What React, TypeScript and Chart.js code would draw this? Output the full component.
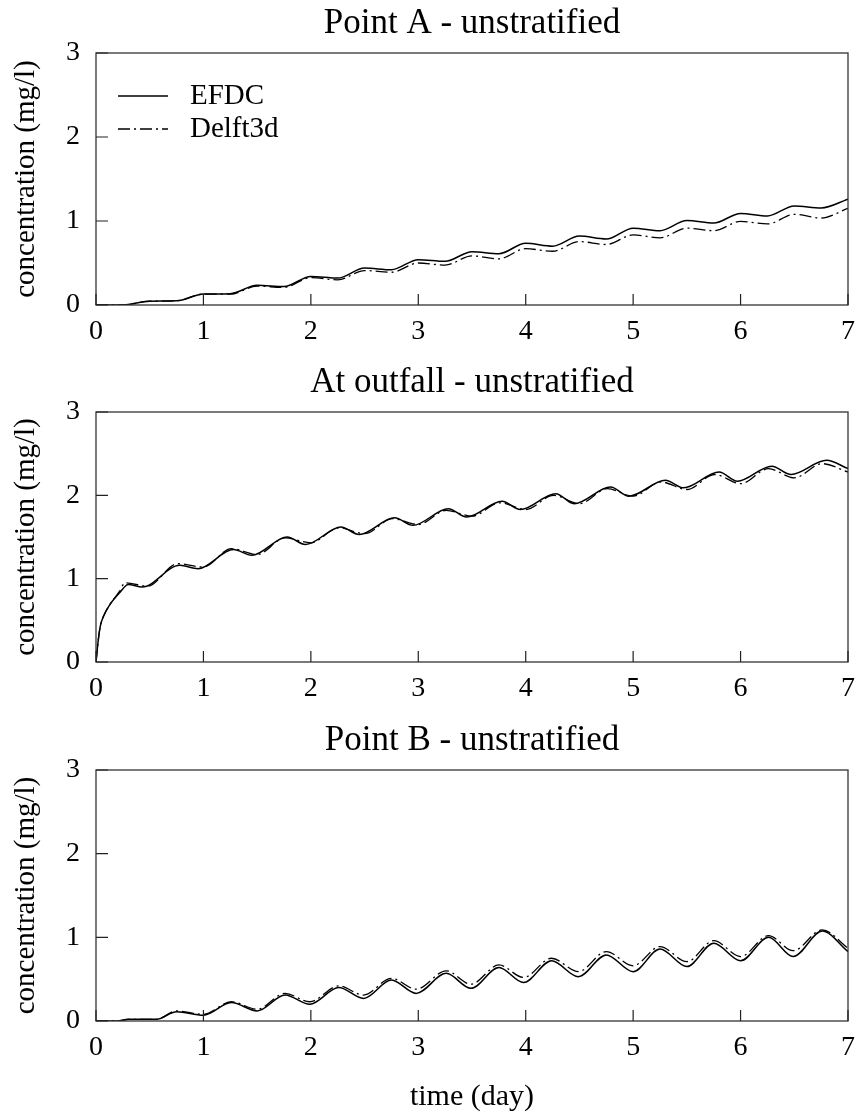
import React, { useEffect, useRef } from "react";
import { Chart, registerables } from "chart.js";

Chart.register(...registerables);

const FONT = "'Liberation Serif', 'Times New Roman', Times, serif";

// ---------- data ----------
const xTickValues = [0, 1, 2, 3, 4, 5, 6, 7];
const yTickValues = [0, 1, 2, 3];

const panelTitles = ["Point A - unstratified", "At outfall - unstratified", "Point B - unstratified"];
const seriesLabels = ["EFDC", "Delft3d"];
const yAxisLabel = "concentration (mg/l)";
const xAxisLabel = "time (day)";

// Point A
const tA = [0, 0.25, 0.5, 0.75, 1, 1.25, 1.5, 1.75, 2, 2.25, 2.5, 2.75, 3, 3.25, 3.5, 3.75, 4, 4.25, 4.5, 4.75, 5, 5.25, 5.5, 5.75, 6, 6.25, 6.5, 6.75, 7];
const efdcA = [0, 0, 0.045, 0.05, 0.13, 0.135, 0.235, 0.22, 0.34, 0.32, 0.44, 0.42, 0.54, 0.52, 0.635, 0.61, 0.735, 0.7, 0.82, 0.785, 0.915, 0.885, 1.005, 0.975, 1.09, 1.06, 1.18, 1.155, 1.26];
const delftA = [0, 0, 0.045, 0.05, 0.13, 0.13, 0.225, 0.21, 0.325, 0.3, 0.41, 0.39, 0.5, 0.475, 0.585, 0.55, 0.67, 0.64, 0.755, 0.72, 0.835, 0.8, 0.915, 0.885, 0.995, 0.965, 1.08, 1.035, 1.15];

// At outfall
const tOutE = [0, 0.02, 0.04, 0.07, 0.13, 0.22, 0.3, 0.43, 0.78, 0.95, 1.28, 1.45, 1.78, 1.95, 2.28, 2.45, 2.78, 2.95, 3.28, 3.45, 3.78, 3.95, 4.28, 4.45, 4.79, 4.96, 5.3, 5.47, 5.8, 5.97, 6.29, 6.47, 6.8, 7];
const efdcOut = [0, 0.25, 0.43, 0.55, 0.69, 0.83, 0.93, 0.9, 1.16, 1.12, 1.35, 1.28, 1.5, 1.41, 1.62, 1.53, 1.73, 1.64, 1.84, 1.74, 1.93, 1.83, 2.02, 1.9, 2.1, 1.99, 2.18, 2.09, 2.28, 2.17, 2.35, 2.25, 2.42, 2.32];
const tOutD = [0, 0.02, 0.04, 0.07, 0.13, 0.22, 0.27, 0.48, 0.76, 1, 1.26, 1.5, 1.76, 2, 2.26, 2.5, 2.76, 3, 3.26, 3.5, 3.76, 4, 4.26, 4.5, 4.76, 5, 5.26, 5.5, 5.76, 6, 6.26, 6.5, 6.76, 7];
const delftOut = [0, 0.25, 0.43, 0.55, 0.69, 0.85, 0.95, 0.91, 1.18, 1.14, 1.36, 1.29, 1.49, 1.43, 1.61, 1.54, 1.72, 1.65, 1.82, 1.75, 1.91, 1.83, 2.0, 1.9, 2.08, 1.99, 2.16, 2.07, 2.25, 2.14, 2.32, 2.21, 2.38, 2.28];

// Point B
const tB = [0, 0.2, 0.3, 0.56, 0.75, 1, 1.26, 1.5, 1.76, 1.99, 2.26, 2.49, 2.75, 2.98, 3.26, 3.49, 3.75, 3.98, 4.24, 4.49, 4.75, 5, 5.25, 5.5, 5.75, 6, 6.26, 6.49, 6.76, 7];
const efdcB = [0, 0, 0.02, 0.02, 0.11, 0.068, 0.22, 0.12, 0.31, 0.2, 0.4, 0.27, 0.49, 0.33, 0.57, 0.39, 0.64, 0.46, 0.72, 0.53, 0.79, 0.59, 0.86, 0.65, 0.93, 0.72, 1.0, 0.77, 1.075, 0.83];
const delftB = [0, 0, 0.02, 0.02, 0.12, 0.08, 0.23, 0.14, 0.33, 0.23, 0.42, 0.31, 0.51, 0.38, 0.6, 0.44, 0.67, 0.52, 0.75, 0.59, 0.83, 0.66, 0.89, 0.71, 0.96, 0.77, 1.02, 0.84, 1.09, 0.87];

// ---------- plugins ----------
const framePlugin = {
  id: "frame",
  afterDatasetsDraw(chart: any) {
    const { ctx, chartArea: a, scales } = chart;
    ctx.save();
    ctx.strokeStyle = "#333";
    ctx.lineWidth = 1.3;
    ctx.strokeRect(a.left, a.top, a.right - a.left, a.bottom - a.top);
    ctx.strokeStyle = "#222";
    ctx.lineWidth = 1.2;
    ctx.beginPath();
    scales.x.ticks.forEach((t: any) => {
      const px = scales.x.getPixelForValue(t.value);
      ctx.moveTo(px, a.bottom);
      ctx.lineTo(px, a.bottom - 11);
    });
    scales.y.ticks.forEach((t: any) => {
      const py = scales.y.getPixelForValue(t.value);
      ctx.moveTo(a.left, py);
      ctx.lineTo(a.left + 12, py);
    });
    ctx.stroke();
    ctx.restore();
  },
};

const innerLegendPlugin = {
  id: "innerLegend",
  afterDatasetsDraw(chart: any, _args: any, opts: any) {
    if (!opts || !opts.display) return;
    const { ctx, chartArea: a } = chart;
    ctx.save();
    chart.data.datasets.forEach((ds: any, i: number) => {
      const y = a.top + opts.firstY + i * opts.rowGap;
      ctx.strokeStyle = ds.borderColor;
      ctx.lineWidth = ds.borderWidth;
      ctx.setLineDash(ds.borderDash || []);
      ctx.beginPath();
      ctx.moveTo(a.left + opts.lineStart, y);
      ctx.lineTo(a.left + opts.lineStart + opts.lineLen, y);
      ctx.stroke();
      ctx.setLineDash([]);
      ctx.fillStyle = "#000";
      ctx.font = `${opts.fontSize}px ${FONT}`;
      ctx.textBaseline = "middle";
      ctx.textAlign = "left";
      ctx.fillText(ds.label, a.left + opts.textStart, y);
    });
    ctx.restore();
  },
};

// ---------- config ----------
type PanelSpec = {
  title: string;
  tE: number[];
  vE: number[];
  tD: number[];
  vD: number[];
  legend: boolean;
  xTitle: boolean;
  xHeight: number;
};

function buildConfig(p: PanelSpec): any {
  const mk = (t: number[], v: number[]) => t.map((x, i) => ({ x, y: v[i] }));
  return {
    type: "line",
    data: {
      datasets: [
        {
          label: seriesLabels[0],
          data: mk(p.tE, p.vE),
          borderColor: "#000",
          borderWidth: 1.5,
          pointRadius: 0,
          fill: false,
          cubicInterpolationMode: "monotone",
        },
        {
          label: seriesLabels[1],
          data: mk(p.tD, p.vD),
          borderColor: "#000",
          borderWidth: 1.3,
          borderDash: [12, 4, 2, 4],
          pointRadius: 0,
          fill: false,
          cubicInterpolationMode: "monotone",
        },
      ],
    },
    options: {
      animation: false,
      responsive: false,
      maintainAspectRatio: false,
      events: [],
      layout: { padding: { left: 0, right: 11, top: 0, bottom: 0 } },
      plugins: {
        legend: { display: false },
        tooltip: { enabled: false },
        title: {
          display: true,
          text: p.title,
          fullSize: false,
          color: "#000",
          font: { family: FONT, size: 35, weight: "normal", lineHeight: 1.2 },
          padding: { top: 2.5, bottom: 8.5 },
        },
        innerLegend: {
          display: p.legend,
          lineStart: 22,
          lineLen: 50,
          textStart: 94,
          firstY: 43,
          rowGap: 33,
          fontSize: 29,
        },
      },
      scales: {
        x: {
          type: "linear",
          min: 0,
          max: 7,
          afterBuildTicks: (scale: any) => {
            scale.ticks = xTickValues.map((v) => ({ value: v }));
          },
          afterFit: (scale: any) => {
            scale.height = p.xHeight;
          },
          grid: { display: false },
          border: { display: false },
          ticks: {
            autoSkip: false,
            maxRotation: 0,
            color: "#000",
            padding: 2,
            font: { family: FONT, size: 28, lineHeight: 1.2 },
          },
          title: {
            display: p.xTitle,
            text: xAxisLabel,
            color: "#000",
            font: { family: FONT, size: 30, lineHeight: 1.2 },
            padding: { top: 0, bottom: 0 },
          },
        },
        y: {
          type: "linear",
          min: 0,
          max: 3,
          afterBuildTicks: (scale: any) => {
            scale.ticks = yTickValues.map((v) => ({ value: v }));
          },
          afterFit: (scale: any) => {
            scale.width = 96;
          },
          grid: { display: false },
          border: { display: false },
          ticks: {
            color: "#000",
            padding: 8,
            font: { family: FONT, size: 28, lineHeight: 1.2 },
          },
          title: {
            display: true,
            text: yAxisLabel,
            color: "#000",
            font: { family: FONT, size: 29, lineHeight: 1.2 },
            padding: { top: 8.6, bottom: 0 },
          },
        },
      },
    },
    plugins: [framePlugin, innerLegendPlugin],
  };
}

const panels: { spec: PanelSpec; top: number; height: number }[] = [
  {
    spec: { title: panelTitles[0], tE: tA, vE: efdcA, tD: tA, vD: delftA, legend: true, xTitle: false, xHeight: 45 },
    top: 0,
    height: 350,
  },
  {
    spec: { title: panelTitles[1], tE: tOutE, vE: efdcOut, tD: tOutD, vD: delftOut, legend: false, xTitle: false, xHeight: 45 },
    top: 359,
    height: 348,
  },
  {
    spec: { title: panelTitles[2], tE: tB, vE: efdcB, tD: tB, vD: delftB, legend: false, xTitle: true, xHeight: 94 },
    top: 717,
    height: 398,
  },
];

function Panel({ spec, top, height }: { spec: PanelSpec; top: number; height: number }) {
  const ref = useRef<HTMLCanvasElement>(null);
  useEffect(() => {
    if (!ref.current) return;
    const chart = new Chart(ref.current, buildConfig(spec));
    return () => chart.destroy();
  }, [spec]);
  return (
    <canvas
      ref={ref}
      width={859}
      height={height}
      style={{ position: "absolute", left: 0, top, width: 859, height, display: "block" }}
    />
  );
}

export default function App() {
  return (
    <div style={{ position: "absolute", left: 0, top: 0, width: 859, height: 1115, background: "#fff", overflow: "hidden" }}>
      {panels.map((p, i) => (
        <Panel key={i} spec={p.spec} top={p.top} height={p.height} />
      ))}
    </div>
  );
}
